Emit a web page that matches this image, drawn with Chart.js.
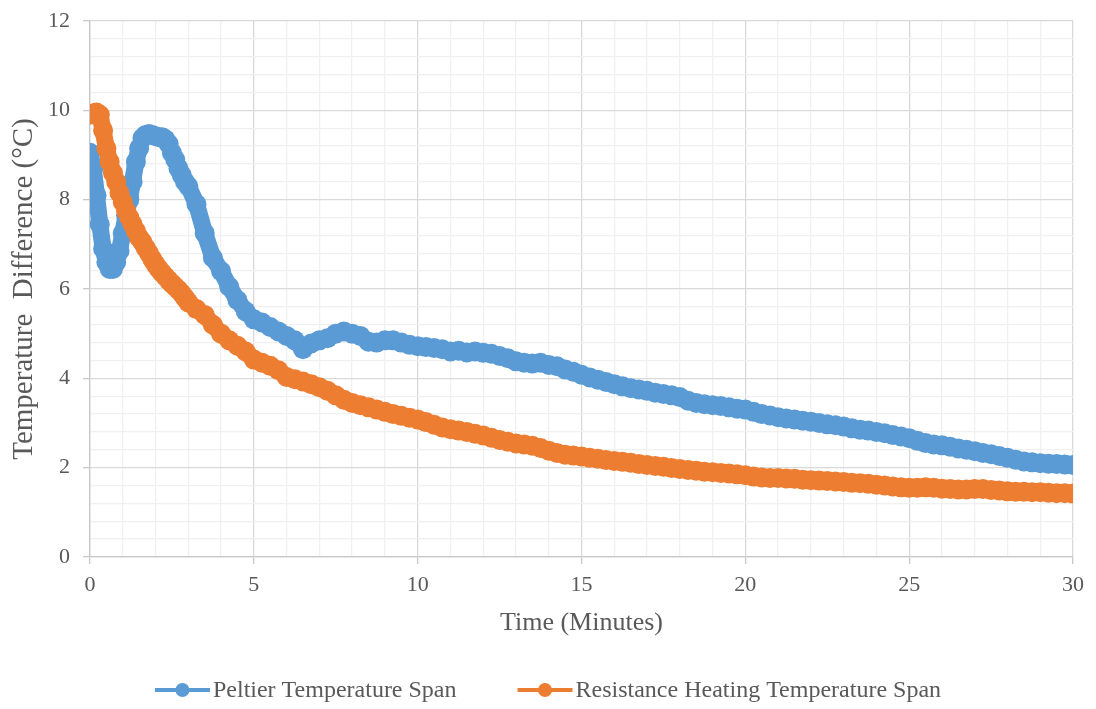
<!DOCTYPE html>
<html>
<head>
<meta charset="utf-8">
<title>Temperature Span</title>
<script src="https://cdn.jsdelivr.net/npm/chart.js@4.4.1/dist/chart.umd.min.js"></script>
<style>
  html, body { margin: 0; padding: 0; background: #fff; }
  #wrap { width: 1096px; height: 709px; position: relative; }
</style>
</head>
<body>
<div id="wrap"><canvas id="spanChart"></canvas></div>
<script>
// ── Data ──────────────────────────────────────────
// sample times in minutes (denser during the first 3 minutes)
const timeMin = [
  0, 0.1, 0.2, 0.3, 0.4, 0.5, 0.6, 0.7, 0.8, 0.9,
  1.0, 1.1, 1.2, 1.3, 1.4, 1.5, 1.6, 1.7, 1.8, 1.9,
  2.0, 2.1, 2.2, 2.3, 2.4, 2.5, 2.6, 2.7, 2.8, 2.9, 3.0,
  3.25, 3.5, 3.75, 4, 4.25, 4.5, 4.75, 5, 5.25, 5.5, 5.75, 6,
  6.25, 6.5, 6.75, 7, 7.25, 7.5, 7.75, 8, 8.25, 8.5, 8.75, 9,
  9.25, 9.5, 9.75, 10, 10.25, 10.5, 10.75, 11, 11.25, 11.5, 11.75, 12,
  12.25, 12.5, 12.75, 13, 13.25, 13.5, 13.75, 14, 14.25, 14.5, 14.75, 15,
  15.25, 15.5, 15.75, 16, 16.25, 16.5, 16.75, 17, 17.25, 17.5, 17.75, 18,
  18.25, 18.5, 18.75, 19, 19.25, 19.5, 19.75, 20, 20.25, 20.5, 20.75, 21,
  21.25, 21.5, 21.75, 22, 22.25, 22.5, 22.75, 23, 23.25, 23.5, 23.75, 24,
  24.25, 24.5, 24.75, 25, 25.25, 25.5, 25.75, 26, 26.25, 26.5, 26.75, 27,
  27.25, 27.5, 27.75, 28, 28.25, 28.5, 28.75, 29, 29.25, 29.5, 29.75, 30
];

const peltierSpan = [
  9.05, 8.7, 8.1, 7.45, 6.9, 6.6, 6.45, 6.45, 6.6, 6.85,
  7.25, 7.65, 8.0, 8.4, 8.85, 9.15, 9.38, 9.45, 9.47, 9.45,
  9.42, 9.4, 9.4, 9.35, 9.25, 9.05, 8.9, 8.7, 8.55, 8.4, 8.3,
  7.9, 7.25, 6.7, 6.4, 6.05, 5.75, 5.5, 5.32, 5.25, 5.15, 5.05, 4.95,
  4.85, 4.65, 4.78, 4.85, 4.9, 5.0, 5.05, 5.0, 4.95, 4.82, 4.8, 4.85,
  4.85, 4.8, 4.75, 4.72, 4.7, 4.68, 4.65, 4.6, 4.62, 4.58, 4.6, 4.57,
  4.55, 4.5, 4.45, 4.38, 4.35, 4.33, 4.35, 4.3, 4.27, 4.2, 4.15, 4.08,
  4.02, 3.97, 3.92, 3.87, 3.82, 3.78, 3.75, 3.72, 3.68, 3.65, 3.62, 3.58,
  3.5, 3.45, 3.42, 3.4, 3.38, 3.35, 3.32, 3.3, 3.25, 3.2, 3.17, 3.13,
  3.1, 3.08, 3.05, 3.03, 3.0, 2.97, 2.95, 2.92, 2.88, 2.85, 2.83, 2.8,
  2.77, 2.73, 2.7, 2.66, 2.6, 2.55, 2.52, 2.5, 2.47, 2.43, 2.4, 2.37,
  2.33, 2.3, 2.26, 2.22, 2.18, 2.14, 2.12, 2.1, 2.09, 2.08, 2.07, 2.06
];

const resistanceSpan = [
  9.9, 9.93, 9.95, 9.9, 9.55, 9.15, 8.85, 8.6, 8.4, 8.15,
  7.95, 7.75, 7.6, 7.45, 7.3, 7.15, 7.05, 6.92, 6.8, 6.67,
  6.55, 6.45, 6.36, 6.28, 6.2, 6.12, 6.05, 5.98, 5.9, 5.8, 5.7,
  5.55, 5.42, 5.2, 5.0, 4.85, 4.73, 4.6, 4.42, 4.35, 4.28, 4.18, 4.03,
  3.98, 3.93, 3.87, 3.8, 3.72, 3.62, 3.52, 3.45, 3.4, 3.35, 3.3, 3.25,
  3.2, 3.16, 3.12, 3.08, 3.02, 2.96, 2.9, 2.86, 2.83, 2.8, 2.76, 2.72,
  2.67, 2.62, 2.58, 2.54, 2.52, 2.49, 2.44, 2.38, 2.33, 2.29, 2.27, 2.25,
  2.22, 2.2, 2.17, 2.15, 2.13, 2.11, 2.08, 2.06, 2.04, 2.02, 1.99, 1.97,
  1.95, 1.93, 1.91, 1.9, 1.88, 1.87, 1.85, 1.83, 1.8, 1.78, 1.77, 1.77,
  1.76, 1.75, 1.73, 1.72, 1.71, 1.7, 1.69, 1.68, 1.66, 1.65, 1.64, 1.62,
  1.6, 1.58, 1.56, 1.55, 1.55, 1.56, 1.55, 1.53, 1.52, 1.51, 1.51, 1.52,
  1.52, 1.5, 1.49, 1.47, 1.46, 1.46, 1.45, 1.45, 1.44, 1.43, 1.43, 1.42
];

const seriesNames = ['Peltier Temperature Span', 'Resistance Heating Temperature Span'];
const seriesColors = ['#5B9BD5', '#ED7D31'];

// x ticks every minute (labels on multiples of 5), y ticks every 0.4 (labels on multiples of 2)
const xTickStep = 1;
const xLabelEvery = 5;
const yTickStep = 0.4;
const yLabelEvery = 2;

// ── Styling helpers ───────────────────────────────
const FONT = "'Liberation Serif', 'Times New Roman', serif";
const TEXT_COLOR = '#595959';
const MAJOR_GRID = '#d9d9d9';
const MINOR_GRID = '#f0f0f0';

function isMultiple(value, step) {
    const r = value / step;
    return Math.abs(r - Math.round(r)) < 1e-6;
}

function toPoints(xs, ys) {
    return xs.map((x, i) => ({ x: x, y: ys[i] }));
}

// legend drawn as line + marker + text, centred under the chart
const lineLegend = {
    id: 'lineLegend',
    afterDraw(chart) {
        const ctx = chart.ctx;
        const markW = 55, gapText = 3, gapItem = 61, y = 690;
        ctx.save();
        ctx.font = '24px ' + FONT;
        ctx.textBaseline = 'middle';
        const items = chart.data.datasets.map(ds => ({
            label: ds.label,
            color: ds.borderColor,
            w: ctx.measureText(ds.label).width
        }));
        const total = items.reduce((s, it) => s + markW + gapText + it.w, 0) + gapItem * (items.length - 1);
        let x = (chart.width - total) / 2;
        items.forEach(it => {
            ctx.strokeStyle = it.color;
            ctx.lineWidth = 4;
            ctx.beginPath();
            ctx.moveTo(x, y);
            ctx.lineTo(x + markW, y);
            ctx.stroke();
            ctx.fillStyle = it.color;
            ctx.beginPath();
            ctx.arc(x + markW / 2, y, 7, 0, Math.PI * 2);
            ctx.fill();
            ctx.fillStyle = TEXT_COLOR;
            ctx.textAlign = 'left';
            ctx.fillText(it.label, x + markW + gapText, y + 1);
            x += markW + gapText + it.w + gapItem;
        });
        ctx.restore();
    }
};

// ── Chart ─────────────────────────────────────────
const ctx = document.getElementById('spanChart').getContext('2d');

new Chart(ctx, {
    type: 'line',
    data: {
        datasets: [
            {
                label: seriesNames[0],
                data: toPoints(timeMin, peltierSpan),
                borderColor: seriesColors[0],
                backgroundColor: seriesColors[0],
                borderWidth: 17,
                pointRadius: 10,
                pointBorderWidth: 0,
                order: 1
            },
            {
                label: seriesNames[1],
                data: toPoints(timeMin, resistanceSpan),
                borderColor: seriesColors[1],
                backgroundColor: seriesColors[1],
                borderWidth: 17,
                pointRadius: 10,
                pointBorderWidth: 0,
                order: 0
            }
        ]
    },
    options: {
        responsive: true,
        maintainAspectRatio: false,
        animation: false,
        events: [],
        layout: {
            padding: { left: 0, right: 23, top: 21, bottom: 68 }
        },
        elements: {
            line: { tension: 0, borderCapStyle: 'round', borderJoinStyle: 'round' }
        },
        plugins: {
            legend: { display: false },
            tooltip: { enabled: false }
        },
        scales: {
            x: {
                type: 'linear',
                min: 0,
                max: 30,
                afterFit: scale => { scale.height = 84; },
                ticks: {
                    stepSize: xTickStep,
                    autoSkip: false,
                    maxRotation: 0,
                    padding: 8,
                    color: TEXT_COLOR,
                    font: { family: FONT, size: 22 },
                    callback: v => isMultiple(v, xLabelEvery) ? String(v) : ''
                },
                grid: {
                    lineWidth: 1.3,
                    tickLength: 7,
                    color: c => isMultiple(c.tick.value, xLabelEvery) ? MAJOR_GRID : MINOR_GRID,
                    tickColor: c => isMultiple(c.tick.value, xLabelEvery) ? '#c8c8c8' : 'rgba(0,0,0,0)'
                },
                border: { color: '#c8c8c8', width: 1.3 },
                title: {
                    display: true,
                    text: 'Time (Minutes)',
                    color: TEXT_COLOR,
                    font: { family: FONT, size: 26 },
                    padding: { top: 0, bottom: 2 }
                }
            },
            y: {
                min: 0,
                max: 12,
                afterFit: scale => {
                    scale.width = 90;
                    scale.paddingTop = 0;
                    scale.paddingBottom = 0;
                },
                ticks: {
                    stepSize: yTickStep,
                    autoSkip: false,
                    padding: 13,
                    color: TEXT_COLOR,
                    font: { family: FONT, size: 22 },
                    callback: v => isMultiple(v, yLabelEvery) ? String(Math.round(v)) : ''
                },
                grid: {
                    lineWidth: 1.3,
                    tickLength: 7,
                    color: c => isMultiple(c.tick.value, yLabelEvery) ? MAJOR_GRID : MINOR_GRID,
                    tickColor: c => isMultiple(c.tick.value, yLabelEvery) ? '#c8c8c8' : 'rgba(0,0,0,0)'
                },
                border: { color: '#c8c8c8', width: 1.3 },
                title: {
                    display: true,
                    text: 'Temperature  Difference (°C)',
                    color: TEXT_COLOR,
                    font: { family: FONT, size: 29 },
                    padding: { top: 7, bottom: 0 }
                }
            }
        }
    },
    plugins: [lineLegend]
});
</script>
</body>
</html>
